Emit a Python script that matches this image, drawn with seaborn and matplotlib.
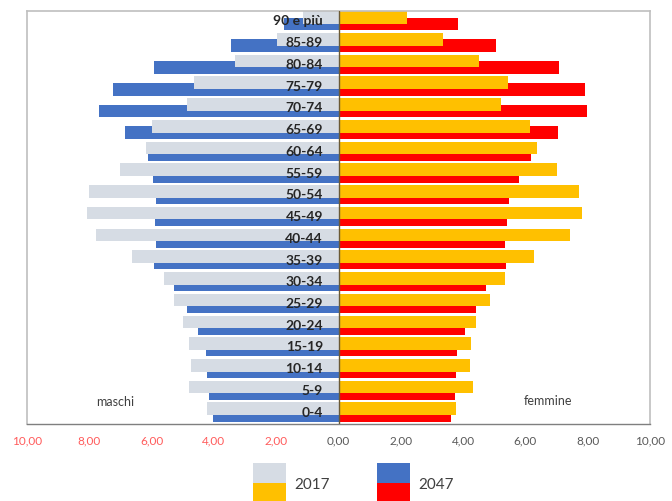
import matplotlib
matplotlib.use("Agg")
import matplotlib.pyplot as plt
from matplotlib.patches import Rectangle
import seaborn as sns
import numpy as np
import pandas as pd

ages = ["0-4", "5-9", "10-14", "15-19", "20-24", "25-29", "30-34", "35-39",
        "40-44", "45-49", "50-54", "55-59", "60-64", "65-69", "70-74",
        "75-79", "80-84", "85-89", "90 e più"]
male_2017 = [4.21, 4.81, 4.73, 4.81, 4.99, 5.27, 5.61, 6.63, 7.78, 8.07,
             8.01, 7.00, 6.19, 6.00, 4.86, 4.64, 3.32, 1.98, 1.15]
male_2047 = [4.02, 4.16, 4.21, 4.25, 4.51, 4.86, 5.27, 5.93, 5.87, 5.90,
             5.87, 5.95, 6.11, 6.85, 7.69, 7.23, 5.92, 3.45, 1.74]
female_2017 = [3.76, 4.33, 4.21, 4.24, 4.40, 4.87, 5.33, 6.29, 7.43, 7.82,
               7.72, 7.00, 6.37, 6.15, 5.22, 5.44, 4.51, 3.36, 2.21]
female_2047 = [3.61, 3.74, 3.76, 3.79, 4.05, 4.41, 4.75, 5.37, 5.33, 5.41,
               5.48, 5.78, 6.18, 7.04, 7.97, 7.92, 7.07, 5.06, 3.83]
years = ["2017", "2047"]
xticks = [-10, -8, -6, -4, -2, 0, 2, 4, 6, 8, 10]
side_labels = ["maschi", "femmine"]

C_GRAY = "#D6DCE4"
C_BLUE = "#4472C4"
C_YEL = "#FFC000"
C_RED = "#FF0000"

sns.set_theme(style="white")
plt.rcParams["font.family"] = ["Lato", "DejaVu Sans"]

fig = plt.figure(figsize=(6.72, 5.01), dpi=100)
ax = fig.add_axes([27 / 672, 77 / 501, 623 / 672, 413 / 501])

pos = np.arange(len(ages))
H = 0.58
OFF17 = 0.2
OFF47 = -0.1

df = pd.DataFrame({
    "pos": pos,
    "m17": -np.array(male_2017), "m47": -np.array(male_2047),
    "f17": np.array(female_2017), "f47": np.array(female_2047),
})

# 2047 drawn behind, 2017 on top
for col, off, color in [("m47", OFF47, C_BLUE), ("f47", OFF47, C_RED),
                        ("m17", OFF17, C_GRAY), ("f17", OFF17, C_YEL)]:
    sns.barplot(x=df[col], y=df["pos"] + off, orient="h", native_scale=True,
                width=H, color=color, saturation=1, errorbar=None,
                linewidth=0, ax=ax)

ax.set_xlim(-10, 10)
ax.set_ylim(-0.5, len(ages) - 0.5)
ax.set_xlabel("")
ax.set_ylabel("")
ax.set_yticks([])
ax.axvline(0, color="#6b5a35", lw=1.0, zorder=5)

ax.set_xticks(xticks)
ax.set_xticklabels([f"{abs(t):.2f}".replace(".", ",") for t in xticks], fontsize=8.5)
for t, lab in zip(xticks, ax.get_xticklabels()):
    lab.set_color("#FF5B5B" if t < 0 else "#595959")
ax.tick_params(axis="x", direction="out", length=3, width=0.8, color="#7f7f7f", pad=5)

for s in ["left", "top", "right"]:
    ax.spines[s].set_color("#BFBFBF")
    ax.spines[s].set_linewidth(1.2)
ax.spines["bottom"].set_color("#7f7f7f")
ax.spines["bottom"].set_linewidth(1.0)

for p, a in zip(pos, ages):
    ax.text(-0.5, p + 0.02, a, ha="right", va="center", fontsize=10,
            fontweight="bold", color="#262626", zorder=6)

ax.text(-7.17, 0.5, side_labels[0], ha="center", va="center", fontsize=9, color="#404040")
ax.text(6.72, 0.55, side_labels[1], ha="center", va="center", fontsize=9, color="#404040")

# legend
def swatch(x0, top_color, bot_color, label):
    w, h = 33 / 672, 20 / 501
    fig.add_artist(Rectangle((x0, 1 - 483 / 501), w, h, transform=fig.transFigure,
                             facecolor=top_color, edgecolor="none"))
    fig.add_artist(Rectangle((x0, 1 - 503 / 501), w, h, transform=fig.transFigure,
                             facecolor=bot_color, edgecolor="none"))
    fig.text(x0 + w + 8 / 672, 1 - 485 / 501, label, ha="left", va="center",
             fontsize=11, color="#404040")

swatch(253 / 672, C_GRAY, C_YEL, years[0])
swatch(377 / 672, C_BLUE, C_RED, years[1])

fig.savefig("out.png", dpi=100)
